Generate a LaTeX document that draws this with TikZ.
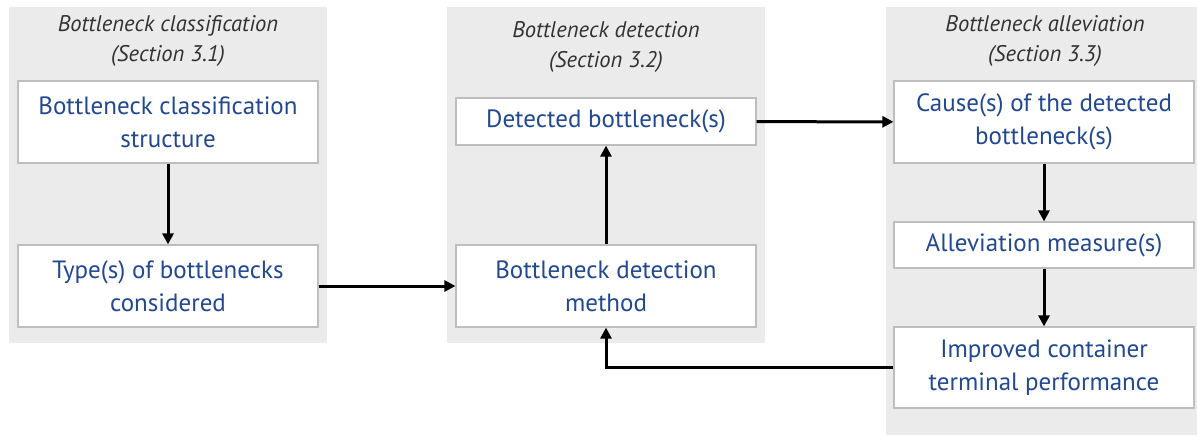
\documentclass[tikz,border=0pt]{standalone}
\usepackage{fontspec}
\setmainfont{PT Sans}
\usetikzlibrary{arrows.meta}
\definecolor{panelgray}{RGB}{236,235,236}
\definecolor{boxborder}{RGB}{190,190,190}
\definecolor{txtblue}{RGB}{33,72,145}
\definecolor{titlegray}{RGB}{50,50,50}
\tikzset{
  panel/.style={fill=panelgray,draw=none},
  procbox/.style={draw=boxborder,line width=0.6pt,fill=white,text=txtblue,align=center,
     font=\fontsize{12.5pt}{16.5pt}\selectfont,inner sep=0pt},
  paneltitle/.style={text=titlegray,align=center,font=\fontsize{11.3pt}{15pt}\selectfont\itshape},
  flow/.style={line width=1.5pt,-{Triangle[length=5.5pt,width=5.5pt]}},
}
\begin{document}
\begin{tikzpicture}[x=0.5pt,y=-0.5pt]
\useasboundingbox (0,0) rectangle (1197,435);
\fill[white] (0,0) rectangle (1197,435);
% panels
\path[panel] (9,7) rectangle (327,343);
\path[panel] (447,7) rectangle (765,343);
\path[panel] (886,7) rectangle (1197,435);
% titles
\node[paneltitle] (t1) at (168,41) {Bottleneck classification\\(Section 3.1)};
\node[paneltitle] (t2) at (606,47) {Bottleneck detection\\(Section 3.2)};
\node[paneltitle] (t3) at (1045,41) {Bottleneck alleviation\\(Section 3.3)};
% boxes
\node[procbox,minimum width=150pt,minimum height=41pt] (b1) at (168,122) {Bottleneck classification\\structure};
\node[procbox,minimum width=150pt,minimum height=41pt] (b2) at (168,286) {Type(s) of bottlenecks\\considered};
\node[procbox,minimum width=150pt,minimum height=23.5pt] (b3) at (606,121.5) {Detected bottleneck(s)};
\node[procbox,minimum width=150pt,minimum height=41pt] (b4) at (606,286) {Bottleneck detection\\method};
\node[procbox,minimum width=150pt,minimum height=41pt] (b5) at (1044,122) {Cause(s) of the detected\\bottleneck(s)};
\node[procbox,minimum width=150pt,minimum height=23pt] (b6) at (1044,245) {Alleviation measure(s)};
\node[procbox,minimum width=150pt,minimum height=40.5pt] (b7) at (1044,367.5) {Improved container\\terminal performance};
% connectors
\draw[flow] (b1) -- (b2);
\draw[flow] (b2) -- (b4);
\draw[flow] (b4) -- (b3);
\draw[flow] (b3) -- (b5);
\draw[flow] (b5) -- (b6);
\draw[flow] (b6) -- (b7);
\draw[flow] (b7.west) -- (606,367.5) -- (b4.south);
\end{tikzpicture}
\end{document}
